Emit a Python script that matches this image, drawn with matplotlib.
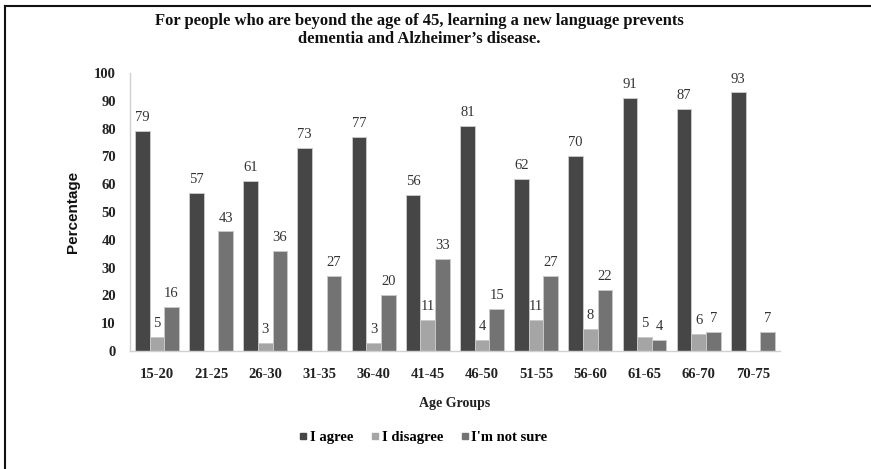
import numpy as np
import matplotlib
matplotlib.use("Agg")
import matplotlib.pyplot as plt
from matplotlib.lines import Line2D

age_groups = ["15-20", "21-25", "26-30", "31-35", "36-40", "41-45",
              "46-50", "51-55", "56-60", "61-65", "66-70", "70-75"]
agree = [79, 57, 61, 73, 77, 56, 81, 62, 70, 91, 87, 93]
disagree = [5, 0, 3, 0, 3, 11, 4, 11, 8, 5, 6, 0]
not_sure = [16, 43, 36, 27, 20, 33, 15, 27, 22, 4, 7, 7]

series = [
    ("I agree", agree, "#464646"),
    ("I disagree", disagree, "#a5a5a5"),
    ("I'm not sure", not_sure, "#737373"),
]

serif = "Liberation Serif"

fig = plt.figure(figsize=(8.71, 4.69), dpi=100)
ax = fig.add_axes([0.149, 0.2516, 0.7465, 0.5927])

x = np.arange(len(age_groups))
width = 0.27
for i, (name, vals, color) in enumerate(series):
    offs = (i - 1) * width
    vals_arr = np.array(vals, dtype=float)
    heights = np.where(vals_arr > 0, vals_arr, np.nan)
    ax.bar(x + offs, heights, width=width, color=color,
           edgecolor="#c8c8c8", linewidth=0.7, label=name)
    for xi, v in zip(x + offs, vals):
        if v > 0:
            ax.annotate(str(v), (xi, v), xytext=(0, 5), textcoords="offset points",
                        ha="center", va="bottom", fontsize=10.5,
                        family=serif, color="#333333")

ax.set_xlim(-0.5, len(age_groups) - 0.5)
ax.set_ylim(0, 100)
ax.set_yticks(range(0, 101, 10))
ax.set_xticks(x)
ax.set_xticklabels(age_groups, family=serif, fontweight="bold", fontsize=10.5)
for lbl in ax.get_yticklabels():
    lbl.set_family(serif)
    lbl.set_fontweight("bold")
    lbl.set_fontsize(10.5)
ax.tick_params(axis="both", length=0, colors="#222222")
ax.tick_params(axis="y", pad=10)
ax.tick_params(axis="x", pad=12)

for side in ["top", "right"]:
    ax.spines[side].set_visible(False)
for side in ["left", "bottom"]:
    ax.spines[side].set_color("#d0d0d0")
    ax.spines[side].set_linewidth(1.0)

ax.set_ylabel("Percentage", family="Liberation Sans", fontweight="bold",
              fontsize=11, color="#111111", labelpad=10)
ax.set_xlabel("Age Groups", family=serif, fontweight="bold", fontsize=10,
              color="#222222", labelpad=12)

fig.text(0.481, 0.972, "For people who are beyond the age of 45, learning a new language prevents\n"
         "dementia and Alzheimer\u2019s disease.", ha="center", va="top",
         family=serif, fontweight="bold", fontsize=12, linespacing=1.15,
         color="#111111")

handles = [Line2D([], [], marker="s", linestyle="none", markersize=5,
                  markerfacecolor=c, markeredgecolor=c) for _, _, c in series]
fig.legend(handles, [s[0] for s in series], loc="center",
           bbox_to_anchor=(0.485, 0.068), ncol=3, frameon=False,
           prop={"family": serif, "weight": "bold", "size": 10.5},
           handletextpad=0.05, columnspacing=1.1, handlelength=0.8)

# page frame along the top and left edges
fig.add_artist(Line2D([0.0055, 0.0055], [0.0, 0.988], transform=fig.transFigure,
                      color="#111111", linewidth=1.5))
fig.add_artist(Line2D([0.0055, 1.0], [0.988, 0.988], transform=fig.transFigure,
                      color="#111111", linewidth=1.5))

fig.savefig("out.png", dpi=100)
